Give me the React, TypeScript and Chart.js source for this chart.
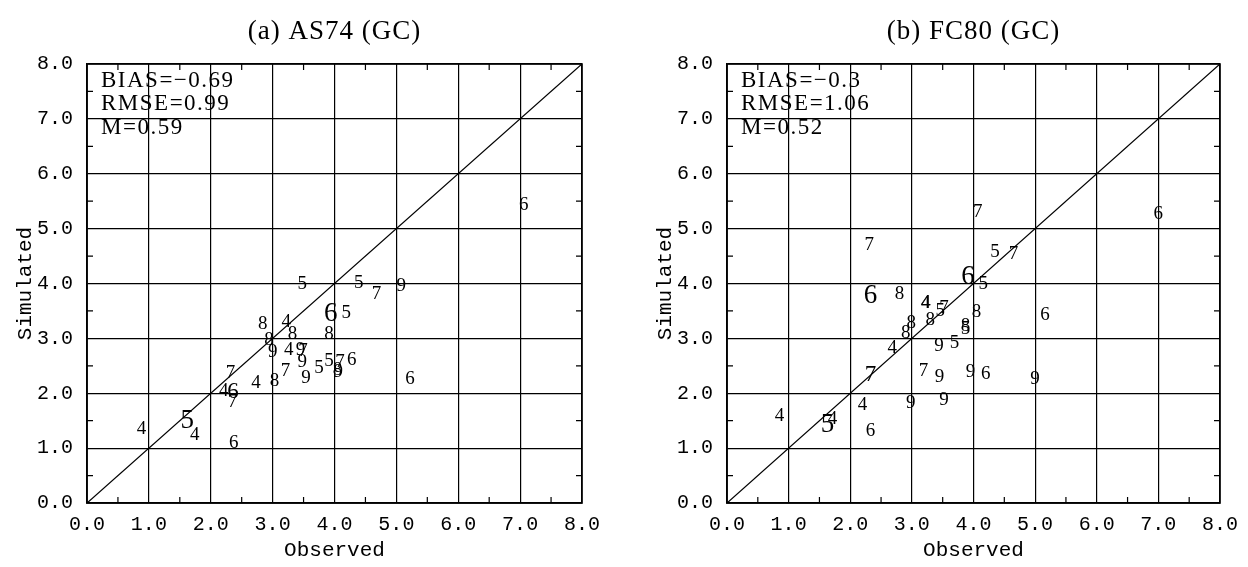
import React, { useEffect, useRef } from "react";
import { Chart, registerables } from "chart.js";

Chart.register(...registerables);

// ---------- shared axis data ----------
const axisValues = [0, 1, 2, 3, 4, 5, 6, 7, 8];
const axisTickLabels = ["0.0", "1.0", "2.0", "3.0", "4.0", "5.0", "6.0", "7.0", "8.0"];
const minorTickValues = [0.5, 1.5, 2.5, 3.5, 4.5, 5.5, 6.5, 7.5];
const diagonalValues = [0, 8];
const xAxisTitle = "Observed";
const yAxisTitle = "Simulated";

// ---------- (a) AS74 (GC) ----------
const as74Title = "(a) AS74 (GC)";
const as74Stats = ["BIAS=\u22120.69", "RMSE=0.99", "M=0.59"];
const as74Observed = [7.06, 3.48, 4.39, 4.68, 5.08, 3.94, 4.19, 2.84, 3.22, 3.32, 3.91, 2.94, 3.0, 3.26, 3.45, 3.49, 3.48, 3.21, 3.54, 3.75, 3.91, 4.09, 4.28, 4.05, 4.06, 5.22, 2.73, 3.03, 2.32, 2.21, 2.36, 2.35, 1.62, 1.74, 0.88, 2.37];
const as74Simulated = [5.45, 4.01, 4.04, 3.84, 3.99, 3.49, 3.49, 3.28, 3.32, 3.1, 3.11, 3.0, 2.77, 2.81, 2.82, 2.8, 2.6, 2.43, 2.3, 2.49, 2.62, 2.6, 2.64, 2.45, 2.42, 2.28, 2.22, 2.25, 2.4, 2.06, 2.05, 1.87, 1.53, 1.26, 1.37, 1.12];
const as74Labels = ["6", "5", "5", "7", "9", "6", "5", "8", "4", "8", "8", "8", "9", "4", "9", "7", "9", "7", "9", "5", "5", "7", "6", "8", "9", "6", "4", "8", "7", "4", "6", "7", "5", "4", "4", "6"];
const as74LargeIdx = [5, 32];
const as74MediumIdx = [30];

// ---------- (b) FC80 (GC) ----------
const fc80Title = "(b) FC80 (GC)";
const fc80Stats = ["BIAS=\u22120.3", "RMSE=1.06", "M=0.52"];
const fc80Observed = [7.0, 4.07, 2.31, 4.35, 4.65, 3.91, 4.16, 2.33, 2.8, 3.22, 3.23, 3.46, 3.52, 4.05, 5.16, 3.3, 2.99, 2.9, 3.87, 3.87, 2.68, 3.44, 3.69, 2.33, 3.19, 3.45, 3.95, 4.2, 5.0, 2.98, 3.52, 2.2, 0.85, 1.63, 1.71, 2.33];
const fc80Simulated = [5.3, 5.33, 4.72, 4.6, 4.56, 4.16, 4.02, 3.81, 3.84, 3.67, 3.68, 3.52, 3.58, 3.5, 3.46, 3.37, 3.31, 3.13, 3.25, 3.2, 2.85, 2.88, 2.95, 2.37, 2.43, 2.32, 2.42, 2.38, 2.28, 1.85, 1.91, 1.81, 1.61, 1.46, 1.55, 1.33];
const fc80Labels = ["6", "7", "7", "5", "7", "6", "5", "6", "8", "4", "4", "5", "7", "8", "6", "8", "8", "8", "8", "5", "4", "9", "5", "7", "7", "9", "9", "6", "9", "9", "9", "4", "4", "5", "4", "6"];
const fc80LargeIdx = [5, 7, 33];
const fc80MediumIdx = [23];

const SERIF = '"Liberation Serif", "DejaVu Serif", serif';
const MONO = '"Liberation Mono", "DejaVu Sans Mono", monospace';

type PanelProps = {
  title: string;
  stats: string[];
  observed: number[];
  simulated: number[];
  labels: string[];
  large: number[];
  medium: number[];
  left: number;
  width: number;
  rightPad: number;
};

function Panel(props: PanelProps) {
  const ref = useRef<HTMLCanvasElement>(null);
  useEffect(() => {
    const canvas = ref.current!;
    const { title, stats, observed, simulated, labels, large, medium, rightPad } = props;
    const pointData = observed.map((x, i) => ({ x, y: simulated[i] }));

    const overlay = {
      id: "overlay",
      afterDatasetsDraw(chart: any) {
        const { ctx, chartArea: a, scales } = chart;
        const xs = scales.x;
        const ys = scales.y;
        ctx.save();
        // minor ticks on all four sides
        ctx.strokeStyle = "#000";
        ctx.lineWidth = 1.2;
        ctx.beginPath();
        for (const v of minorTickValues) {
          const px = xs.getPixelForValue(v);
          ctx.moveTo(px, a.bottom);
          ctx.lineTo(px, a.bottom - 6);
          ctx.moveTo(px, a.top);
          ctx.lineTo(px, a.top + 6);
          const py = ys.getPixelForValue(v);
          ctx.moveTo(a.left, py);
          ctx.lineTo(a.left + 6, py);
          ctx.moveTo(a.right, py);
          ctx.lineTo(a.right - 6, py);
        }
        ctx.stroke();
        ctx.lineWidth = 1.6;
        ctx.strokeRect(a.left, a.top, a.right - a.left, a.bottom - a.top);

        // digit markers
        const meta = chart.getDatasetMeta(1);
        ctx.fillStyle = "#000";
        ctx.textAlign = "center";
        ctx.textBaseline = "alphabetic";
        meta.data.forEach((el: any, i: number) => {
          const size = large.includes(i) ? 27 : medium.includes(i) ? 23 : 19;
          ctx.font = `${size}px ${SERIF}`;
          ctx.fillText(labels[i], el.x, el.y + size * 0.34);
        });

        // statistics text
        ctx.textAlign = "left";
        ctx.font = `23px ${SERIF}`;
        (ctx as any).letterSpacing = "1.5px";
        stats.forEach((s, i) => {
          ctx.fillText(s, a.left + 14, a.top + 15 + i * 23.5 + 23 * 0.34);
        });

        // panel title
        ctx.textAlign = "center";
        ctx.font = `27px ${SERIF}`;
        (ctx as any).letterSpacing = "1px";
        ctx.fillText(title, (a.left + a.right) / 2, 30 + 27 * 0.34);
        (ctx as any).letterSpacing = "0px";
        ctx.restore();
      },
    };

    const tickCallback = (v: any) => {
      const idx = axisValues.indexOf(Number(v));
      return idx >= 0 ? axisTickLabels[idx] : "";
    };

    const chart = new Chart(canvas, {
      type: "scatter",
      data: {
        datasets: [
          {
            type: "line",
            data: diagonalValues.map((v) => ({ x: v, y: v })),
            borderColor: "#000",
            borderWidth: 1.3,
            pointRadius: 0,
            fill: false,
            tension: 0,
          } as any,
          {
            type: "scatter",
            data: pointData,
            pointRadius: 0,
            pointHoverRadius: 0,
            backgroundColor: "rgba(0,0,0,0)",
            borderColor: "rgba(0,0,0,0)",
          },
        ],
      },
      options: {
        animation: false,
        responsive: false,
        events: [],
        layout: { padding: { top: 64, right: rightPad, bottom: 0, left: 0 } },
        plugins: {
          legend: { display: false },
          tooltip: { enabled: false },
          title: { display: false },
        },
        scales: {
          x: {
            type: "linear",
            position: "bottom",
            min: 0,
            max: 8,
            ticks: {
              stepSize: 1,
              autoSkip: false,
              maxRotation: 0,
              padding: 10,
              color: "#000",
              font: { family: MONO, size: 20 },
              callback: tickCallback,
            },
            grid: { color: "#000", lineWidth: 1.2, drawTicks: false },
            border: { display: true, color: "#000", width: 1.6 },
            title: {
              display: true,
              text: xAxisTitle,
              color: "#000",
              font: { family: MONO, size: 21 },
              padding: { top: 0, bottom: 4 },
            },
            afterFit: (s: any) => {
              s.height = 64;
            },
          },
          y: {
            type: "linear",
            position: "left",
            min: 0,
            max: 8,
            ticks: {
              stepSize: 1,
              autoSkip: false,
              padding: 14,
              color: "#000",
              font: { family: MONO, size: 20 },
              callback: tickCallback,
            },
            grid: { color: "#000", lineWidth: 1.2, drawTicks: false },
            border: { display: true, color: "#000", width: 1.6 },
            title: {
              display: true,
              text: yAxisTitle,
              color: "#000",
              font: { family: MONO, size: 21 },
              padding: { top: 13, bottom: 0 },
            },
            afterFit: (s: any) => {
              s.width = 87;
            },
          },
        },
      } as any,
      plugins: [overlay],
    });
    return () => chart.destroy();
  }, []);

  return (
    <div style={{ position: "absolute", left: props.left, top: 0, width: props.width, height: 567 }}>
      <canvas ref={ref} width={props.width} height={567} style={{ display: "block" }} />
    </div>
  );
}

export default function App() {
  return (
    <div style={{ position: "absolute", left: 0, top: 0, width: 1248, height: 567, background: "#fff" }}>
      <Panel
        title={as74Title}
        stats={as74Stats}
        observed={as74Observed}
        simulated={as74Simulated}
        labels={as74Labels}
        large={as74LargeIdx}
        medium={as74MediumIdx}
        left={0}
        width={624}
        rightPad={42}
      />
      <Panel
        title={fc80Title}
        stats={fc80Stats}
        observed={fc80Observed}
        simulated={fc80Simulated}
        labels={fc80Labels}
        large={fc80LargeIdx}
        medium={fc80MediumIdx}
        left={640}
        width={608}
        rightPad={26}
      />
    </div>
  );
}
